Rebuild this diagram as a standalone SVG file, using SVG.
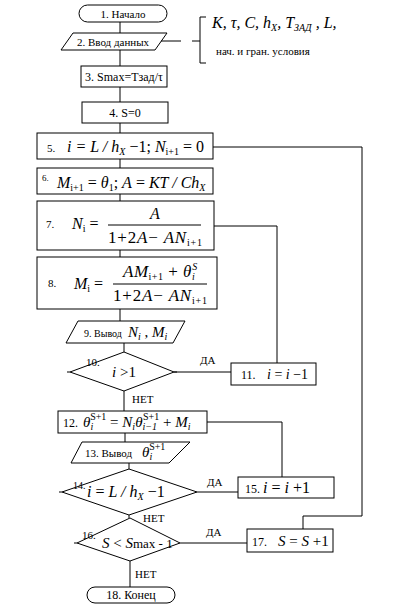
<svg xmlns="http://www.w3.org/2000/svg" width="410" height="608" viewBox="0 0 410 608">
<style>
.s{fill:none;stroke:#000;stroke-width:1}
.t{font-family:"Liberation Serif",serif;font-size:11px;fill:#000}
.f{font-family:"Liberation Serif",serif;font-size:15px;font-style:italic;fill:#000}
.r{font-style:normal}
.sb{font-size:10px}
.dn{font-size:17px;letter-spacing:0.8px}
</style>
<rect width="410" height="608" fill="#fff"/>
<g id="connectors" class="s">
<path d="M120 22V33M120 50V66M120 87V102M120 123V133M120 159V168M120 194V201M120 250V257M120 309V321M124 343V352M124 391V411M125 433V442M129 463V469M129 515V518M130 561V587"/>
<path d="M213 147H362V516H303V529"/>
<path d="M214 226H277V363"/>
<path d="M174 372H231"/>
<path d="M207 422H282V477"/>
<path d="M197 492H238"/>
<path d="M180 543H247"/>
<path d="M161 41H181M192 41H200M206 17H200V63H206"/>
</g>
<g id="n1"><rect class="s" x="79" y="5" width="88" height="17" rx="8.5"/><text class="t" x="123" y="18" text-anchor="middle">1. Начало</text></g>
<g id="n2"><polygon class="s" points="73,33 167,33 155,50 61,50"/><text class="t" x="113" y="46" text-anchor="middle">2. Ввод данных</text></g>
<g id="n2note"><text class="f" x="212" y="28" style="font-size:16px">K, τ, C, h<tspan class="sb" dy="3">X</tspan><tspan dy="-3">, T</tspan><tspan class="sb" dy="3">ЗАД</tspan><tspan dy="-3"> , L,</tspan></text><text class="t" x="216" y="55">нач. и гран. условия</text></g>
<g id="n3"><rect class="s" x="81" y="66" width="86" height="21"/><text class="t" x="124" y="81" text-anchor="middle" style="font-size:12px">3. Smax=Tзад/τ</text></g>
<g id="n4"><rect class="s" x="82" y="102" width="86" height="21"/><text class="t" x="125" y="117" text-anchor="middle" style="font-size:12px">4.  S=0</text></g>
<g id="n5"><rect class="s" x="37" y="133" width="176" height="26"/><text class="t" x="47" y="152">5.</text><text class="f" x="67" y="152" style="font-size:16px">i = L / h<tspan class="sb" dy="3">X</tspan><tspan class="r" dy="-3"> −1; </tspan>N<tspan class="sb r" dy="3">i+1</tspan><tspan class="r" dy="-3"> = 0</tspan></text></g>
<g id="n6"><rect class="s" x="37" y="168" width="176" height="26"/><text class="t" x="42" y="181" style="font-size:9px">6.</text><text class="f" x="57" y="188" style="font-size:16px">M<tspan class="sb r" dy="3">i+1</tspan><tspan class="r" dy="-3"> = </tspan>θ<tspan class="sb r" dy="3">1</tspan><tspan class="r" dy="-3">; </tspan>A<tspan class="r"> = </tspan>KT / Ch<tspan class="sb" dy="3">X</tspan></text></g>
<g id="n7"><rect class="s" x="37" y="201" width="177" height="49"/><text class="t" x="46" y="228">7.</text><text class="f" x="72" y="229" style="font-size:16px">N<tspan class="sb r" dy="3">i</tspan><tspan class="r" dy="-3"> =</tspan></text><path class="s" d="M108 225H201"/><text class="f" x="155" y="219" text-anchor="middle" style="font-size:16px">A</text><text class="f dn" x="108" y="243"><tspan class="r">1+2</tspan>A<tspan class="r">− </tspan>AN<tspan class="sb r" dy="3">i+1</tspan></text></g>
<g id="n8"><rect class="s" x="37" y="257" width="180" height="52"/><text class="t" x="48" y="287">8.</text><text class="f" x="74" y="289" style="font-size:16px">M<tspan class="sb r" dy="3">i</tspan><tspan class="r" dy="-3"> =</tspan></text><path class="s" d="M113 284H207"/><text class="f" x="123" y="277" style="font-size:17px;letter-spacing:0.5px">AM<tspan class="sb r" dy="3">i+1</tspan><tspan class="r" dy="-3"> + </tspan>θ<tspan class="sb" dy="3">i</tspan><tspan class="sb" dx="-3" dy="-10">S</tspan></text><text class="f dn" x="113" y="301"><tspan class="r">1+2</tspan>A<tspan class="r">− </tspan>AN<tspan class="sb r" dy="3">i+1</tspan></text></g>
<g id="n9"><polygon class="s" points="78,321 185,321 173,343 66,343"/><text class="t" x="84" y="337" style="font-size:10px">9. Вывод</text><text class="f" x="128" y="337">N<tspan class="sb" dy="3">i</tspan><tspan class="r" dy="-3"> , </tspan>M<tspan class="sb" dy="3">i</tspan></text></g>
<g id="n10"><polygon class="s" points="124,352 174,372 124,391 70,372"/><path class="s" d="M70 372H67M174 372H177"/><text class="t" x="86" y="366">10.</text><text class="f" x="124" y="377" text-anchor="middle">i <tspan class="r">&gt;1</tspan></text></g>
<g id="n11"><rect class="s" x="231" y="363" width="85" height="22"/><text class="t" x="241" y="379" style="font-size:12px">11.</text><text class="f" x="267" y="379" style="font-size:14px">i <tspan class="r">=</tspan> i <tspan class="r">−1</tspan></text></g>
<g id="n12"><rect class="s" x="58" y="411" width="149" height="22"/><text class="t" x="63" y="427" style="font-size:12px">12.</text><text class="f" x="83" y="427">θ<tspan class="sb" dy="3">i</tspan><tspan class="sb r" dx="-3" dy="-10">S+1</tspan><tspan class="r" dy="7"> = </tspan>N<tspan class="sb" dy="3">i</tspan><tspan dy="-3">θ</tspan><tspan class="sb" dy="3">i−1</tspan><tspan class="sb r" dx="-14" dy="-10">S+1</tspan><tspan class="r" dy="7"> + </tspan>M<tspan class="sb" dy="3">i</tspan></text></g>
<g id="n13"><polygon class="s" points="82,442 190,442 169,463 71,463"/><text class="t" x="85" y="457">13. Вывод</text><text class="f" x="142" y="457">θ<tspan class="sb" dy="3">i</tspan><tspan class="sb r" dx="-3" dy="-10">S+1</tspan></text></g>
<g id="n14"><polygon class="s" points="129,469 197,492 129,515 62,492"/><path class="s" d="M62 492H59"/><text class="t" x="73" y="489" style="font-size:10px">14.</text><text class="f" x="87" y="497" style="font-size:16px">i <tspan class="r">= </tspan>L / h<tspan class="sb" dy="3">X</tspan><tspan class="r" dy="-3"> −1</tspan></text></g>
<g id="n15"><rect class="s" x="238" y="477" width="96" height="21"/><text class="t" x="245" y="493" style="font-size:12px">15.</text><text class="f" x="263" y="493" style="font-size:16px">i <tspan class="r">= </tspan>i <tspan class="r">+1</tspan></text></g>
<g id="n16"><polygon class="s" points="130,518 180,543 130,561 77,543"/><path class="s" d="M77 543H74"/><text class="t" x="82" y="539">16.</text><text class="f" x="102" y="548">S <tspan class="r">&lt; </tspan>S<tspan class="r" style="font-size:13px">max - 1</tspan></text></g>
<g id="n17"><rect class="s" x="247" y="529" width="86" height="23"/><text class="t" x="252" y="546" style="font-size:12px">17.</text><text class="f" x="278" y="546">S <tspan class="r">= </tspan>S <tspan class="r">+1</tspan></text></g>
<g id="n18"><rect class="s" x="87" y="587" width="88" height="16" rx="8"/><text class="t" x="131" y="599" text-anchor="middle" style="font-size:12px">18. Конец</text></g>
<g id="labels" class="t">
<text x="200" y="364">ДА</text><text x="132" y="403">НЕТ</text>
<text x="207" y="486">ДА</text><text x="143" y="522">НЕТ</text>
<text x="206" y="536">ДА</text><text x="135" y="578">НЕТ</text>
</g>
</svg>
